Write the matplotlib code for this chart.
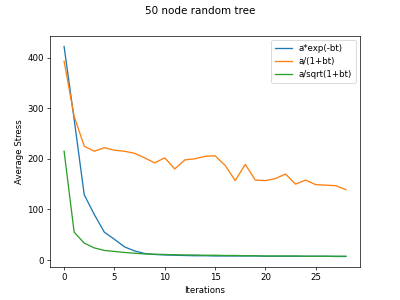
import matplotlib
matplotlib.use("Agg")
import matplotlib.pyplot as plt

iterations = list(range(29))
exp_decay = [422, 278, 129, 90, 55, 41, 26, 18, 13, 11, 10, 9.5, 9, 8.5, 8.5, 8, 8, 8, 8, 8, 7.5, 7.5, 7.5, 7.5, 7.5, 7.5, 7.5, 7, 7]
inv_decay = [393, 284, 225, 215, 222, 217, 215, 211, 202, 192, 202, 180, 198, 200, 205, 206, 187, 157, 189, 158, 157, 161, 170, 150, 158, 149, 148, 147, 139]
sqrt_decay = [215, 55, 33.5, 24, 19, 17, 15, 13.5, 12, 11.5, 11, 10.5, 10, 10, 9.5, 9.5, 9, 9, 8.5, 8.5, 8, 8, 8, 8, 7.5, 7.5, 7.5, 7.5, 7.5]
labels = ["a*exp(-bt)", "a/(1+bt)", "a/sqrt(1+bt)"]

fig, ax = plt.subplots(figsize=(6.4, 4.8), dpi=62.5)
ax.plot(iterations, exp_decay, label=labels[0])
ax.plot(iterations, inv_decay, label=labels[1])
ax.plot(iterations, sqrt_decay, label=labels[2])
ax.set_xlabel("Iterations")
ax.set_ylabel("Average Stress")
fig.suptitle("50 node random tree")
ax.legend(loc="upper right")
fig.savefig("out.png")
